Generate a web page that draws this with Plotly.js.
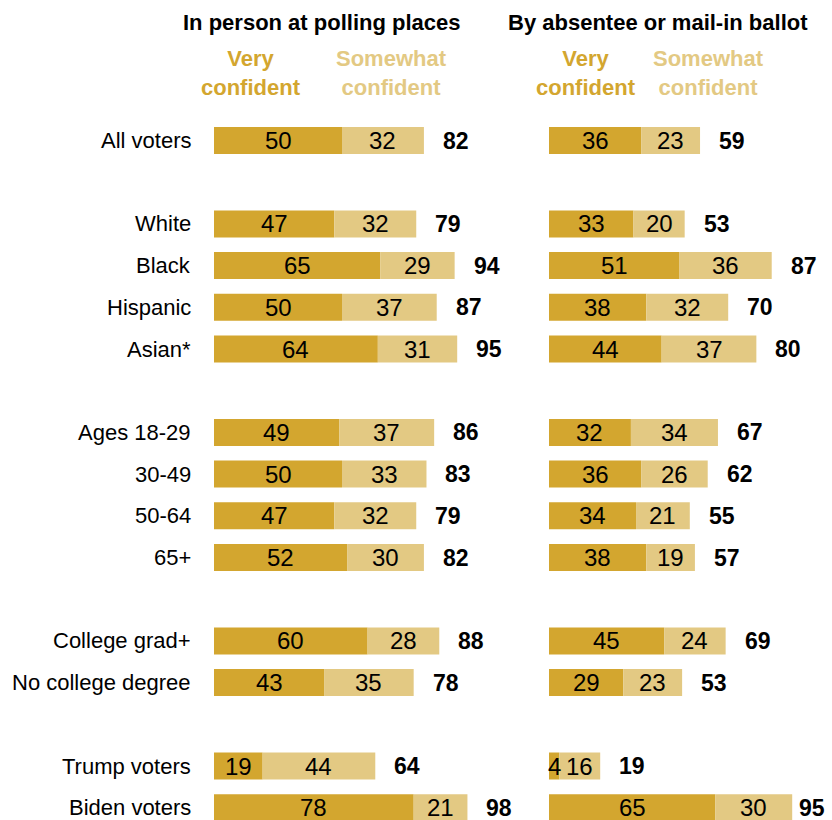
<!DOCTYPE html>
<html>
<head>
<meta charset="utf-8">
<script src="https://cdn.plot.ly/plotly-3.0.1.min.js"></script>
<style>
html,body{margin:0;padding:0;background:#fff;}
#chart{width:832px;height:820px;}
</style>
</head>
<body>
<div id="chart"></div>
<script>
const categories = ["All voters","White","Black","Hispanic","Asian*","Ages 18-29","30-49","50-64","65+","College grad+","No college degree","Trump voters","Biden voters"];
const rowSlots = [0,2,3,4,5,7,8,9,10,12,13,15,16];

const inPersonVery = [50,47,65,50,64,49,50,47,52,60,43,19,78];
const inPersonSomewhat = [32,32,29,37,31,37,33,32,30,28,35,44,21];
const inPersonTotal = [82,79,94,87,95,86,83,79,82,88,78,64,98];

const mailVery = [36,33,51,38,44,32,36,34,38,45,29,4,65];
const mailSomewhat = [23,20,36,32,37,34,26,21,19,24,23,16,30];
const mailTotal = [59,53,87,70,80,67,62,55,57,69,53,19,95];

const panelTitles = ["In person at polling places","By absentee or mail-in ballot"];
const legendLabels = ["Very<br>confident","Somewhat<br>confident"];

const DARK = "#D3A62F";
const LIGHT = "#E3C983";
const FONT = "Liberation Sans, Arial, sans-serif";
const W = 832, H = 820;
const pxPerUnit = 2.56;
const leftStart = 214, rightStart = 549;
const xMax = 110;
const barW = 27/41.7;

function bar(x, base, color, xa){
  return {type:"bar", orientation:"h", x:x, y:rowSlots, base:base, width:barW,
    marker:{color:color, line:{width:0}}, xaxis:xa, yaxis:"y", hoverinfo:"skip", showlegend:false};
}

const traces = [
  bar(inPersonVery, inPersonVery.map(()=>0), DARK, "x"),
  bar(inPersonSomewhat, inPersonVery, LIGHT, "x"),
  bar(mailVery, mailVery.map(()=>0), DARK, "x2"),
  bar(mailSomewhat, mailVery, LIGHT, "x2")
];

const ann = [];
const numFont = {family:FONT, size:24, color:"#000"};
function addPanel(very, some, total, xa, startPx){
  for(let i=0;i<categories.length;i++){
    ann.push({x:very[i]/2, y:rowSlots[i], xref:xa, yref:"y", text:String(very[i]), showarrow:false, font:numFont, xanchor:"center", yanchor:"middle"});
    ann.push({x:very[i]+some[i]/2, y:rowSlots[i], xref:xa, yref:"y", text:String(some[i]), showarrow:false, font:numFont, xanchor:"center", yanchor:"middle"});
    const endPx = startPx + (very[i]+some[i])*pxPerUnit;
    const shift = Math.min(17, 823 - 26 - endPx);
    ann.push({x:very[i]+some[i], y:rowSlots[i], xref:xa, yref:"y", text:"<b>"+total[i]+"</b>", showarrow:false,
      font:{family:FONT, size:23, color:"#000"}, xanchor:"left", yanchor:"middle", xshift:shift});
  }
}
addPanel(inPersonVery, inPersonSomewhat, inPersonTotal, "x", leftStart);
addPanel(mailVery, mailSomewhat, mailTotal, "x2", rightStart);

for(let i=0;i<categories.length;i++){
  ann.push({x:192.5/W, y:rowSlots[i], xref:"paper", yref:"y", text:categories[i], showarrow:false,
    font:{family:FONT, size:22, color:"#000"}, xanchor:"right", yanchor:"middle"});
}

function paperY(px){ return 1 - px/H; }
const headers = [
  {t:panelTitles[0], x:321.5},
  {t:panelTitles[1], x:658}
];
headers.forEach(h=>ann.push({x:h.x/W, y:paperY(22), xref:"paper", yref:"paper", text:"<b>"+h.t+"</b>", showarrow:false,
  font:{family:FONT, size:22, color:"#000"}, xanchor:"center", yanchor:"middle"}));

const legendPos = [[250.5, DARK, 0],[391.5, LIGHT, 1],[586, DARK, 0],[708, LIGHT, 1]];
legendPos.forEach(l=>ann.push({x:l[0]/W, y:paperY(73), xref:"paper", yref:"paper", text:"<b>"+legendLabels[l[2]]+"</b>", showarrow:false,
  font:{family:FONT, size:22, color:l[1]}, xanchor:"center", yanchor:"middle", align:"center"}));

const y0 = 140.5, slot = 41.7;
const layout = {
  width:W, height:H,
  margin:{l:0,r:0,t:0,b:0,pad:0},
  paper_bgcolor:"#fff", plot_bgcolor:"#fff",
  barmode:"overlay",
  showlegend:false,
  xaxis:{domain:[leftStart/W, (leftStart+xMax*pxPerUnit)/W], range:[0,xMax], visible:false, fixedrange:true},
  xaxis2:{domain:[rightStart/W, (rightStart+xMax*pxPerUnit)/W], range:[0,xMax], visible:false, fixedrange:true},
  yaxis:{domain:[0,1], range:[(H-y0)/slot, -y0/slot], visible:false, fixedrange:true},
  annotations:ann
};

Plotly.newPlot("chart", traces, layout, {staticPlot:true, displayModeBar:false});
</script>
</body>
</html>
